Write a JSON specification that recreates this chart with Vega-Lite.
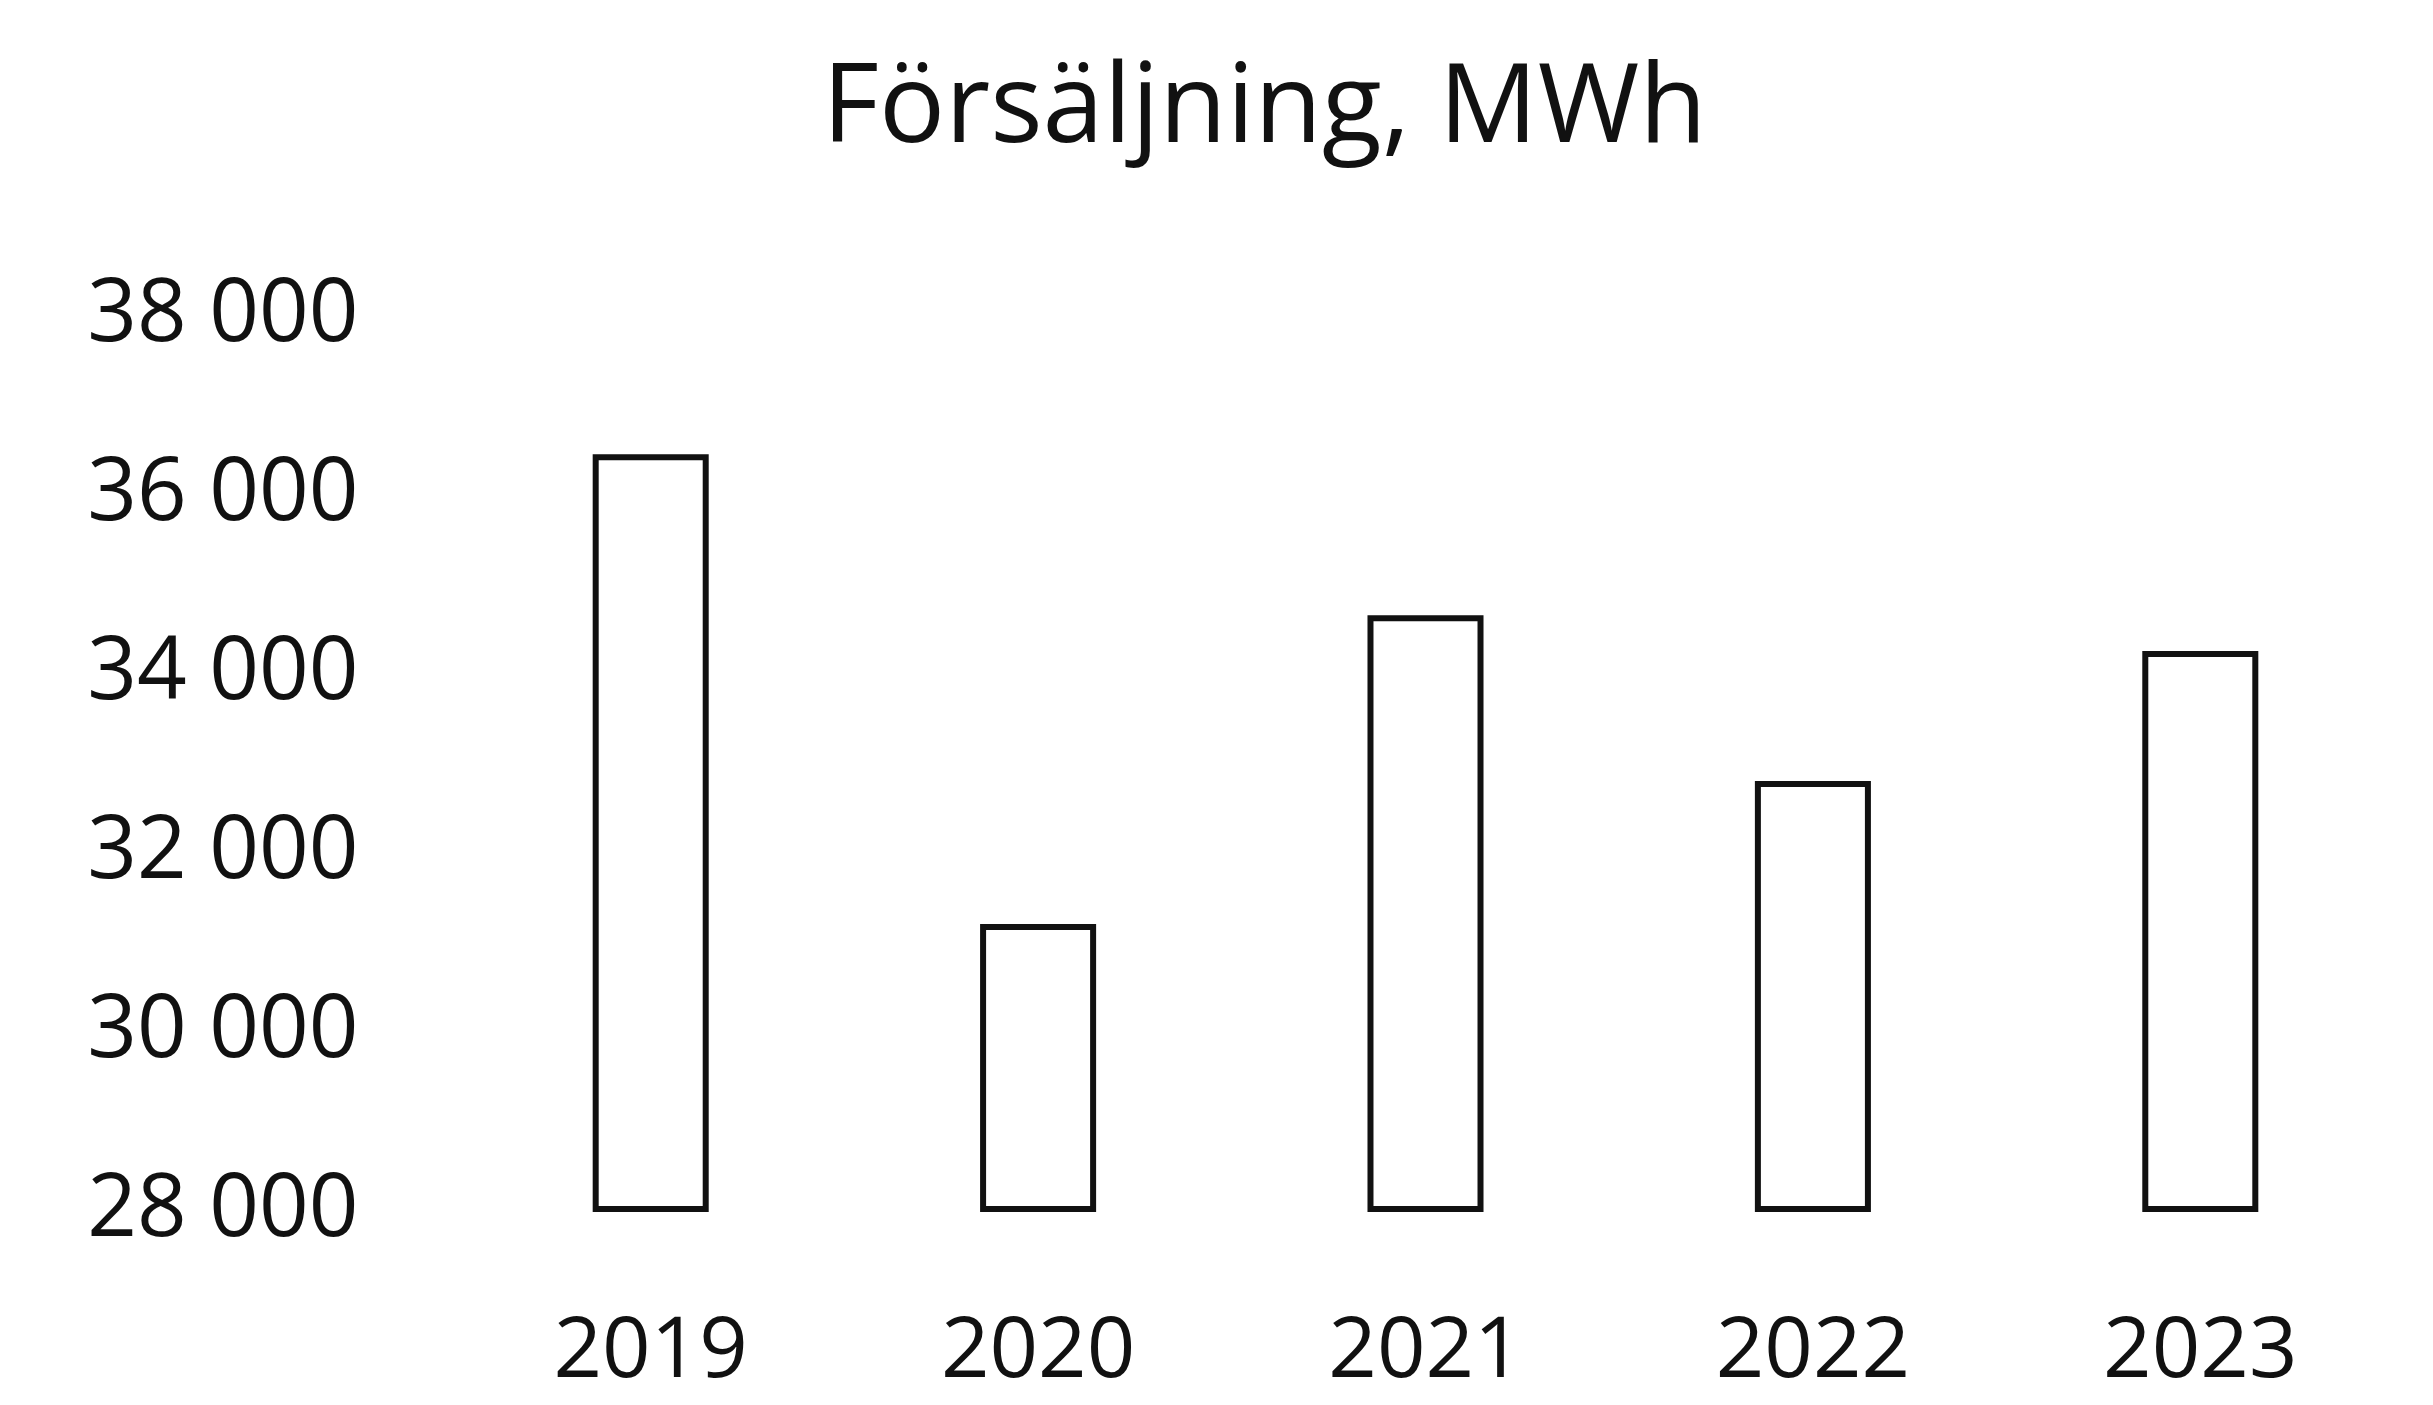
{
  "$schema": "https://vega.github.io/schema/vega-lite/v6.json",
  "autosize": {"type": "none"},
  "width": 1937,
  "height": 895,
  "padding": {"left": 457, "top": 314, "right": 39, "bottom": 196},
  "background": "white",
  "title": {
    "text": "Försäljning, MWh",
    "font": "Open Sans",
    "fontSize": 110,
    "fontWeight": "normal",
    "color": "#111111",
    "anchor": "middle",
    "frame": "group",
    "dx": -161,
    "baseline": "alphabetic",
    "offset": 18,
    "limit": 0
  },
  "data": {
    "values": [
      {"year": "2019", "value": 36400},
      {"year": "2020", "value": 31150},
      {"year": "2021", "value": 34600},
      {"year": "2022", "value": 32750},
      {"year": "2023", "value": 34200}
    ]
  },
  "mark": {"type": "bar", "fill": "white", "stroke": "#111111", "strokeWidth": 6},
  "encoding": {
    "x": {
      "field": "year",
      "type": "ordinal",
      "scale": {"paddingInner": 0.716, "paddingOuter": 0.358},
      "axis": {
        "title": null,
        "labelAngle": 0,
        "labelFont": "Open Sans",
        "labelFontSize": 85,
        "labelColor": "#111111",
        "labelPadding": 100,
        "labelLimit": 0,
        "labelOverlap": false,
        "ticks": false,
        "domain": false,
        "grid": false
      }
    },
    "y": {
      "field": "value",
      "type": "quantitative",
      "scale": {"domain": [28000, 38000], "zero": false, "nice": false, "clamp": true},
      "axis": {
        "title": null,
        "values": [28000, 30000, 32000, 34000, 36000, 38000],
        "labelExpr": "replace(format(datum.value, ','), ',', ' ')",
        "labelFont": "Open Sans",
        "labelFontSize": 87,
        "labelColor": "#111111",
        "labelPadding": 99,
        "labelLimit": 0,
        "labelOverlap": false,
        "ticks": false,
        "domain": false,
        "grid": false
      }
    }
  },
  "config": {"view": {"stroke": null}}
}
